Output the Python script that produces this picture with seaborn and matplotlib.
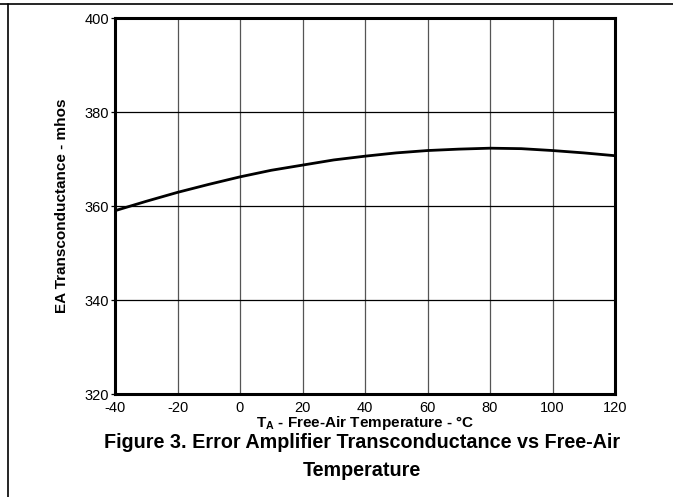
import matplotlib
matplotlib.use("Agg")
import matplotlib.pyplot as plt
import seaborn as sns
import pandas as pd
from matplotlib.lines import Line2D

temperature_c = [-40, -30, -20, -10, 0, 10, 20, 30, 40, 50, 60, 70, 80, 90, 100, 110, 120]
transconductance = [359.0, 361.0, 362.9, 364.6, 366.2, 367.6, 368.7, 369.8, 370.6,
                    371.3, 371.8, 372.1, 372.3, 372.2, 371.8, 371.3, 370.7]
x_ticks = [-40, -20, 0, 20, 40, 60, 80, 100, 120]
y_ticks = [320, 340, 360, 380, 400]

sns.set_theme(style="white")
plt.rcParams['font.family'] = ['Liberation Sans', 'DejaVu Sans']
plt.rcParams['mathtext.fontset'] = 'custom'
plt.rcParams['mathtext.rm'] = 'Liberation Sans'
plt.rcParams['mathtext.bf'] = 'Liberation Sans:bold'
plt.rcParams['axes.unicode_minus'] = False
plt.rcParams['text.color'] = 'black'
plt.rcParams['axes.labelcolor'] = 'black'
plt.rcParams['xtick.color'] = 'black'
plt.rcParams['ytick.color'] = 'black'

df = pd.DataFrame({"T": temperature_c, "G": transconductance})

fig = plt.figure(figsize=(6.73, 4.97), dpi=100)
ax = fig.add_axes([115/673, 1-394/497, 500/673, 376/497])

ax.set_xlim(-40, 120)
ax.set_ylim(320, 400)
ax.set_xticks(x_ticks)
ax.set_yticks(y_ticks)
for xv in x_ticks[1:-1]:
    ax.axvline(xv, color="#555555", lw=0.9, zorder=1)
for yv in y_ticks[1:-1]:
    ax.axhline(yv, color="black", lw=0.9, zorder=1)

sns.lineplot(data=df, x="T", y="G", ax=ax, color="black", lw=2.0, zorder=3)

for s in ax.spines.values():
    s.set_linewidth(2.2)
    s.set_color("black")
ax.tick_params(axis="y", length=3, width=0.9, color="black", labelsize=10.5, pad=1, left=True)
ax.tick_params(axis="x", length=0, labelsize=10.5, pad=5)

ax.set_xlabel(r"T$_{\mathbf{A}}$ - Free-Air Temperature - °C", fontsize=11, fontweight="bold")
ax.xaxis.label.set_va("top")
ax.xaxis.set_label_coords(0.5, -(414-394)/376)
ax.set_ylabel("EA Transconductance - mhos", fontsize=11, fontweight="bold")
ax.yaxis.label.set_va("center")
ax.yaxis.set_label_coords(-(115-62)/500, 0.5)

fig.text(362/673, 1-443/497, "Figure 3. Error Amplifier Transconductance vs Free-Air",
         ha="center", va="center", fontsize=14.2, fontweight="bold")
fig.text(362/673, 1-470/497, "Temperature",
         ha="center", va="center", fontsize=14.2, fontweight="bold")

fig.add_artist(Line2D([0, 1], [1-4/497, 1-4/497], transform=fig.transFigure, color="black", lw=1.2))
fig.add_artist(Line2D([8/673, 8/673], [0, 1-4/497], transform=fig.transFigure, color="black", lw=1.2))

fig.savefig("out.png", dpi=100)
